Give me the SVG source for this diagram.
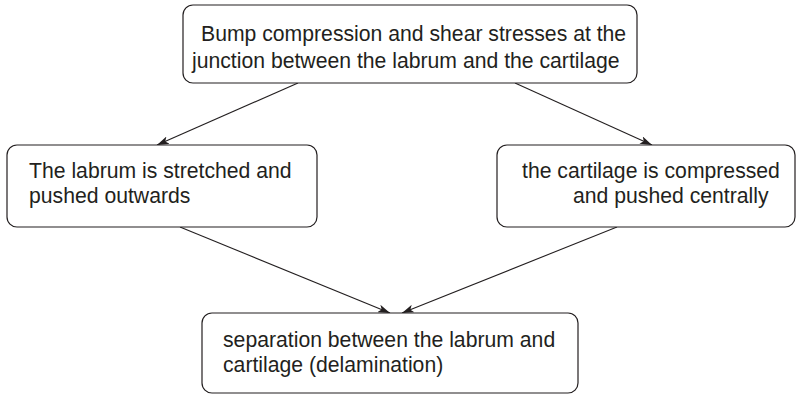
<svg xmlns="http://www.w3.org/2000/svg" width="799" height="395" viewBox="0 0 799 395">
<style>
.box{fill:#fff;stroke:#231f20;stroke-width:1.2}
.t{font-family:"Liberation Sans",Arial,sans-serif;font-size:21.2px;fill:#231f20}
.c{stroke:#231f20;stroke-width:1.1;fill:none;marker-end:url(#ah)}
</style>
<defs>
<marker id="ah" viewBox="0 0 12 8" refX="12" refY="4" markerWidth="12" markerHeight="8" markerUnits="userSpaceOnUse" orient="auto">
<path d="M0,0 L12,4 L0,8 L3,4 Z" fill="#231f20"/>
</marker>
</defs>
<rect width="799" height="395" fill="#fff"/>
<g id="connectors">
<line class="c" x1="298" y1="83" x2="157" y2="145"/>
<line class="c" x1="515" y1="83" x2="652" y2="145"/>
<line class="c" x1="180" y1="227" x2="390" y2="313"/>
<line class="c" x1="617" y1="227" x2="402" y2="313"/>
</g>
<g id="n1">
<rect class="box" x="183" y="5" width="454" height="78" rx="10"/>
<text class="t" x="201" y="41">Bump compression and shear stresses at the</text>
<text class="t" x="192" y="68">junction between the labrum and the cartilage</text>
</g>
<g id="n2">
<rect class="box" x="7" y="145" width="310" height="82" rx="10"/>
<text class="t" x="29" y="178">The labrum is stretched and</text>
<text class="t" x="29" y="203">pushed outwards</text>
</g>
<g id="n3">
<rect class="box" x="497" y="145" width="298" height="82" rx="10"/>
<text class="t" x="522" y="178">the cartilage is compressed</text>
<text class="t" x="573" y="203">and pushed centrally</text>
</g>
<g id="n4">
<rect class="box" x="202" y="313" width="376" height="80" rx="10"/>
<text class="t" x="223" y="347">separation between the labrum and</text>
<text class="t" x="223" y="372">cartilage (delamination)</text>
</g>
</svg>
